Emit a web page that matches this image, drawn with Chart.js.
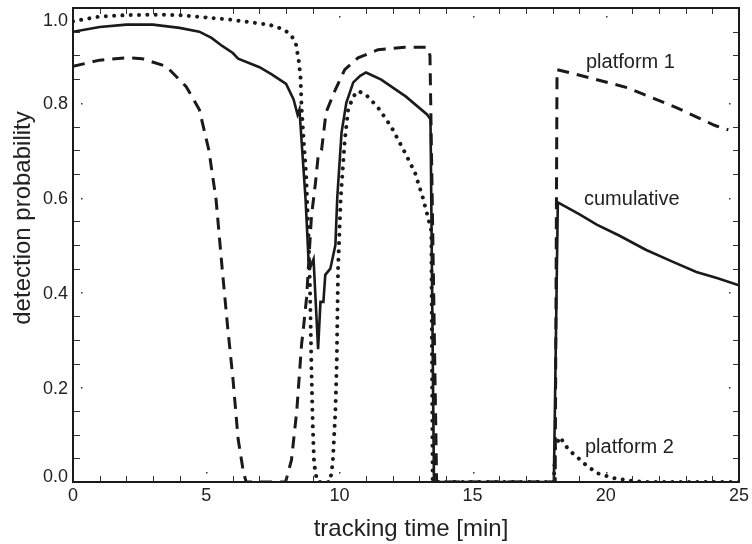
<!DOCTYPE html>
<html>
<head>
<meta charset="utf-8">
<script src="https://cdn.jsdelivr.net/npm/chart.js@4.4.1/dist/chart.umd.min.js"></script>
<style>
    body { margin: 0; background: #fff; }
    canvas { display: block; }
</style>
</head>
<body>
<canvas id="grafico_deteccao" width="752" height="544"></canvas>
<script>
// tempos [min] e probabilidades
var cum_t = [0, 1, 2, 3, 4, 4.74, 5.2, 5.6, 6.0, 6.2, 7.0, 7.46, 8.0, 8.28, 8.43, 8.5, 8.73, 8.84, 8.92, 9.03, 9.2, 9.29, 9.4, 9.47, 9.66, 9.85, 9.92, 10.08, 10.26, 10.52, 10.78, 11.0, 11.57, 12.5, 13.3, 13.42, 13.55, 18.05, 18.2, 19.0, 19.66, 20.5, 21.5, 22.5, 23.4, 24.2, 25];
var cum_p = [0.95, 0.96, 0.965, 0.965, 0.958, 0.95, 0.937, 0.92, 0.905, 0.893, 0.875, 0.86, 0.84, 0.807, 0.775, 0.786, 0.596, 0.47, 0.455, 0.47, 0.28, 0.38, 0.38, 0.437, 0.45, 0.5, 0.6, 0.737, 0.8, 0.843, 0.857, 0.864, 0.849, 0.813, 0.775, 0.765, 0, 0, 0.59, 0.565, 0.543, 0.52, 0.49, 0.465, 0.443, 0.43, 0.415];

var p1_t = [0, 1, 2, 2.6, 3.5, 4.25, 4.74, 5.1, 5.37, 5.6, 5.8, 6.0, 6.2, 6.4, 6.5, 7.98, 8.2, 8.4, 8.58, 8.66, 8.77, 8.95, 9.1, 9.2, 9.33, 9.5, 9.85, 10.2, 10.7, 11.45, 12.45, 13.3, 13.4, 13.65, 18.1, 18.17, 18.9, 20.8, 22.65, 24.1, 24.6];
var p1_p = [0.877, 0.89, 0.895, 0.893, 0.877, 0.834, 0.786, 0.7, 0.596, 0.45, 0.33, 0.22, 0.09, 0.02, 0, 0, 0.046, 0.15, 0.29, 0.33, 0.39, 0.56, 0.63, 0.686, 0.7, 0.78, 0.828, 0.87, 0.895, 0.912, 0.917, 0.917, 0.9, 0, 0, 0.87, 0.86, 0.832, 0.79, 0.752, 0.743];

var p2_t = [0, 1, 2, 3, 4, 5, 6, 6.35, 7.35, 7.9, 8.17, 8.36, 8.47, 8.54, 8.58, 8.66, 8.75, 8.84, 8.9, 8.95, 9.0, 9.05, 9.15, 9.2, 9.65, 9.75, 9.85, 9.9, 9.95, 10.05, 10.2, 10.33, 10.52, 10.7, 11.0, 11.45, 11.94, 12.46, 12.84, 13.13, 13.32, 13.45, 13.5, 18.05, 18.1, 18.28, 18.6, 18.9, 19.17, 19.66, 20.3, 20.9, 21.5, 25];
var p2_p = [0.972, 0.982, 0.985, 0.986, 0.985, 0.98, 0.975, 0.972, 0.965, 0.955, 0.944, 0.927, 0.89, 0.855, 0.79, 0.72, 0.65, 0.52, 0.4, 0.24, 0.12, 0.04, 0.005, 0, 0, 0.04, 0.15, 0.25, 0.45, 0.6, 0.72, 0.786, 0.813, 0.825, 0.817, 0.79, 0.75, 0.695, 0.652, 0.6, 0.56, 0.53, 0, 0, 0.075, 0.095, 0.068, 0.054, 0.04, 0.019, 0.008, 0.003, 0, 0];

var ticks_x = [0, 5, 10, 15, 20, 25];
var ticks_y = [0, 0.2, 0.4, 0.6, 0.8, 1.0];

var fonte = '"Liberation Sans", Arial, sans-serif';
var cor = '#1a1a1a';

function juntar(t, p) {
    var arr = [];
    for (var i = 0; i < t.length; i++) {
        arr.push({ x: t[i], y: p[i] });
    }
    return arr;
}

// ticks para dentro nos quatro lados, moldura, rotulos
var plugin_eixos = {
    id: 'eixos',
    afterDatasetsDraw(chart) {
        var c = chart.ctx;
        var a = chart.chartArea;
        var sx = chart.scales.x;
        var sy = chart.scales.y;
        c.save();
        c.strokeStyle = '#333';
        c.fillStyle = '#333';
        c.lineWidth = 1;
        for (var v = 0; v <= 25; v++) {
            var px = Math.round(sx.getPixelForValue(v)) + 0.5;
            if (v % 5 != 0) {
                c.beginPath();
                c.moveTo(px, a.bottom); c.lineTo(px, a.bottom - 6);
                c.moveTo(px, a.top); c.lineTo(px, a.top + 6);
                c.stroke();
            } else if (v > 0 && v < 25) {
                c.fillRect(px - 0.5, a.bottom - 10, 1.5, 1.5);
                c.fillRect(px - 0.5, a.top + 8, 1.5, 1.5);
            }
        }
        for (var k = 0; k <= 20; k++) {
            var py = Math.round(sy.getPixelForValue(k * 0.05)) + 0.5;
            if (k % 4 != 0) {
                c.beginPath();
                c.moveTo(a.left, py); c.lineTo(a.left + 7, py);
                c.moveTo(a.right, py); c.lineTo(a.right - 6, py);
                c.stroke();
            } else if (k > 0 && k < 20) {
                c.fillRect(a.left + 8, py - 0.5, 1.5, 1.5);
                c.fillRect(a.right - 10, py - 0.5, 1.5, 1.5);
            }
        }
        c.strokeStyle = cor;
        c.lineWidth = 2;
        c.strokeRect(a.left, a.top, a.right - a.left, a.bottom - a.top);

        // rotulos do eixo y
        c.fillStyle = '#222';
        c.font = '18px ' + fonte;
        c.textAlign = 'right';
        c.textBaseline = 'middle';
        for (var j = 0; j < ticks_y.length; j++) {
            var ly = sy.getPixelForValue(ticks_y[j]) + 1.5;
            ly = Math.min(Math.max(ly, a.top + 13), a.bottom - 4.5);
            c.fillText(ticks_y[j].toFixed(1), a.left - 5, ly);
        }

        // titulos
        c.font = '24px ' + fonte;
        c.textAlign = 'center';
        c.fillText('tracking time [min]', 411, 529);
        c.save();
        c.translate(23, 218);
        c.rotate(-Math.PI / 2);
        c.fillText('detection probability', 0, 0);
        c.restore();

        // nomes das curvas
        c.font = '20px ' + fonte;
        c.textAlign = 'left';
        c.textBaseline = 'alphabetic';
        c.fillText('platform 1', 586, 68);
        c.fillText('cumulative', 584, 205);
        c.fillText('platform 2', 585, 453);
        c.restore();
    }
};

var ctx = document.getElementById('grafico_deteccao');

new Chart(ctx, {
    type: 'line',
    data: {
        datasets: [{
            label: 'cumulative',
            data: juntar(cum_t, cum_p),
            borderColor: cor,
            borderWidth: 2.6,
            pointRadius: 0,
            tension: 0
        }, {
            label: 'platform 1',
            data: juntar(p1_t, p1_p),
            borderColor: cor,
            borderWidth: 3,
            borderDash: [12, 8],
            pointRadius: 0,
            tension: 0
        }, {
            label: 'platform 2',
            data: juntar(p2_t, p2_p),
            borderColor: cor,
            borderWidth: 4,
            borderDash: [0.01, 8.3],
            borderCapStyle: 'round',
            pointRadius: 0,
            tension: 0
        }]
    },
    options: {
        responsive: false,
        animation: false,
        layout: { padding: { top: 8, right: 9, left: 0, bottom: 0 } },
        plugins: {
            legend: { display: false },
            tooltip: { enabled: false }
        },
        scales: {
            x: {
                type: 'linear',
                min: 0,
                max: 25,
                afterBuildTicks: function (s) {
                    s.ticks = ticks_x.map(function (v) { return { value: v }; });
                },
                ticks: {
                    color: '#222',
                    font: { size: 18, family: fonte },
                    padding: 3,
                    maxRotation: 0,
                    autoSkip: false
                },
                grid: { display: false, drawTicks: false },
                border: { display: false },
                afterFit: function (s) { s.height = 62; }
            },
            y: {
                min: 0,
                max: 1,
                ticks: { display: false },
                grid: { display: false, drawTicks: false },
                border: { display: false },
                afterFit: function (s) { s.width = 73; }
            }
        }
    },
    plugins: [plugin_eixos]
});
</script>
</body>
</html>
